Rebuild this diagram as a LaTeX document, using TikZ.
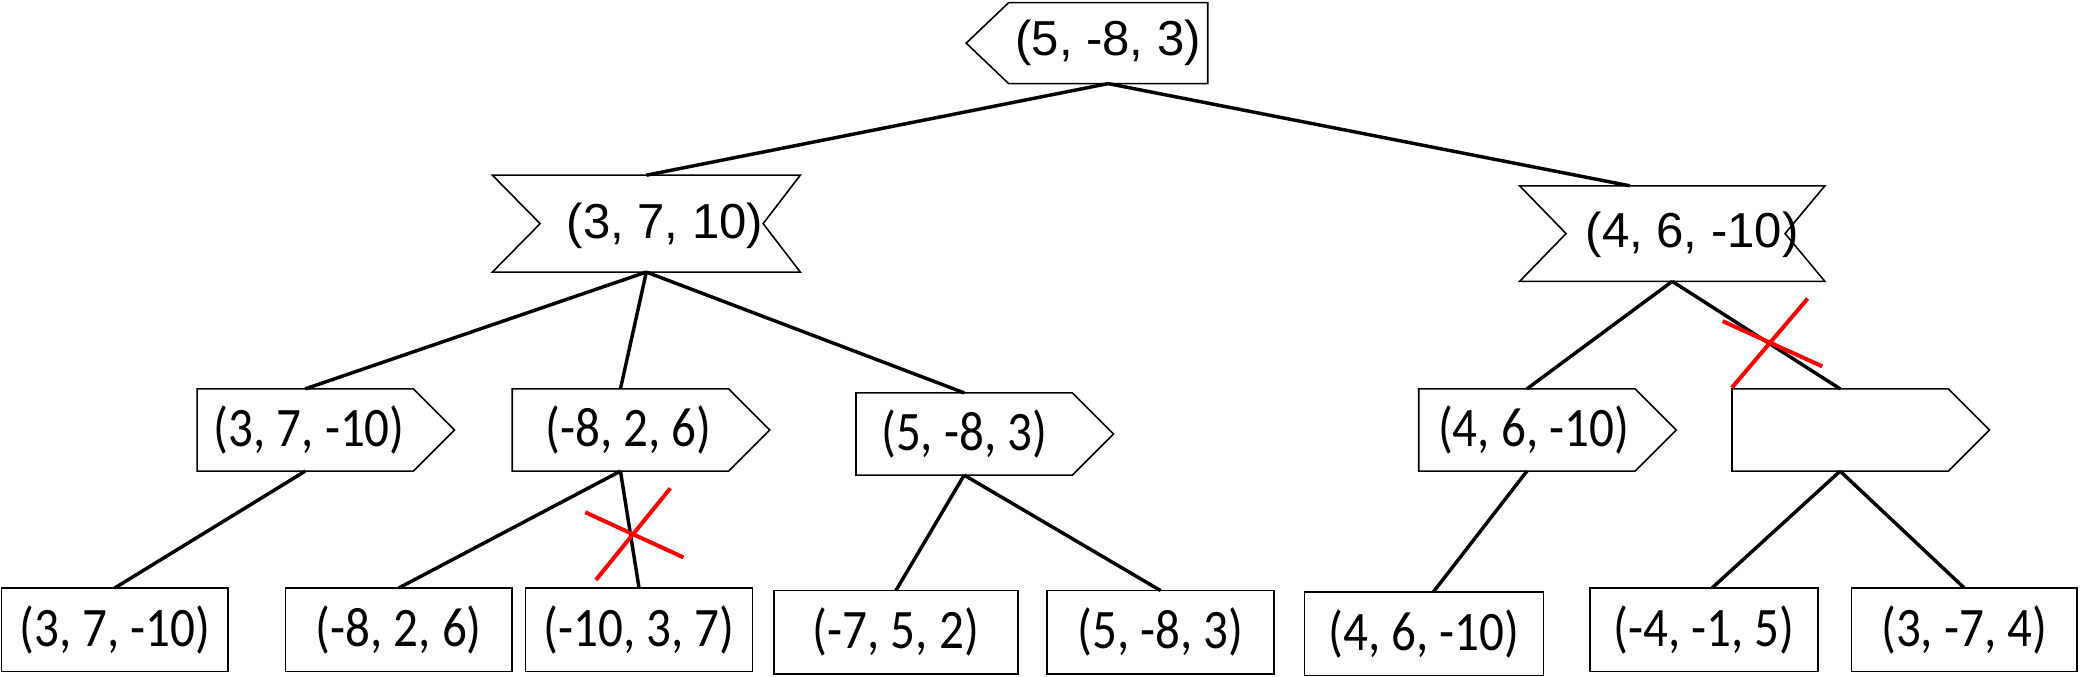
\documentclass[tikz,border=0pt]{standalone}
\usepackage{fontspec}
\setmainfont{Liberation Sans}
\newfontfamily\calibri[FakeStretch=0.88]{Carlito}
\usetikzlibrary{calc}

\begin{document}
\begin{tikzpicture}[x=1pt,y=-1pt,
    box/.style={inner sep=0pt, outer sep=0pt},
    outline/.style={line width=1.2pt, line join=miter},
    arialtext/.style={font=\fontsize{37}{40}\selectfont},
    calibritext/.style={font=\calibri\fontsize{42}{45}\selectfont},
    rootnode/.style={box, arialtext, minimum width=150pt, minimum height=61pt},
    minnode/.style={box, minimum width=232pt, minimum height=73pt},
    maxnode/.style={box, calibritext, minimum width=163pt, minimum height=62pt},
    leaf/.style={box, draw, outline, calibritext, minimum height=63pt},
    branch/.style={line width=2.6pt},
    cut/.style={line width=3pt, red}]
				\fill[white] (0,0) rectangle (1568,510);
				
				\node[rootnode] (R) at (835,32.5) {(5, -8, 3)};
				\draw[outline] (R.north east) -- (R.north west) -- ($(R.west)+(-32,0)$) -- (R.south west) -- (R.south east) -- cycle;
				
				\node[minnode] (m1) at (487,168.5) {};
				\node[minnode, minimum width=230pt, minimum height=72pt] (m2) at (1260,176) {};
				\node[box, arialtext] (m1t) at (501,170) {(3, 7, 10)};
				\node[box, arialtext] (m2t) at (1275,177) {(4, 6, -10)};
				\foreach \n/\a/\b in {m1/36/28, m2/35/30}
					\draw[outline] (\n.north west) -- (\n.north east) -- ($(\n.east)+(-\b,0)$) -- (\n.south east) -- (\n.south west) -- ($(\n.west)+(\a,0)$) -- cycle;
				
				\node[maxnode] (M1) at (230,324) {\hspace*{6pt}(3, 7, -10)};
				\node[maxnode] (M2) at (467.5,324) {\hspace*{12pt}(-8, 2, 6)};
				\node[maxnode] (M3) at (726.5,327) {(5, -8, 3)};
				\node[maxnode] (M4) at (1150.5,324) {\hspace*{10pt}(4, 6, -10)};
				\node[maxnode] (M5) at (1386.5,324) {};
				\foreach \n in {M1,M2,M3,M4,M5}
					\draw[outline] (\n.north west) -- (\n.north east) -- ($(\n.east)+(31,0)$) -- (\n.south east) -- (\n.south west) -- cycle;
				
				\node[leaf, minimum width=171pt] (L1) at (86.5,474.5) {(3, 7, -10)};
				\node[leaf, minimum width=171pt] (L2) at (300.5,474.5) {(-8, 2, 6)};
				\node[leaf, minimum width=171pt] (L3) at (481.5,474.5) {(-10, 3, 7)};
				\node[leaf, minimum width=184pt] (L4) at (675,476.5) {(-7, 5, 2)};
				\node[leaf, minimum width=171pt] (L5) at (874.5,476.5) {(5, -8, 3)};
				\node[leaf, minimum width=180pt] (L6) at (1073,477.5) {(4, 6, -10)};
				\node[leaf, minimum width=172pt] (L7) at (1284,474.5) {(-4, -1, 5)};
				\node[leaf, minimum width=170pt] (L8) at (1480,474.5) {(3, -7, 4)};
				
				\draw[branch] (R.south) -- (m1.north);
				\draw[branch] (R.south) -- ($(m2.north)+(-32,0)$);
				\draw[branch] (m1.south) -- (M1.north);
				\draw[branch] (m1.south) -- (M2.north);
				\draw[branch] (m1.south) -- (M3.north);
				\draw[branch] (m2.south) -- (M4.north);
				\draw[branch] (m2.south) -- (M5.north);
				\draw[branch] (M1.south) -- (L1.north);
				\draw[branch] (M2.south) -- (L2.north);
				\draw[branch] (M2.south) -- (L3.north);
				\draw[branch] (M3.south) -- (L4.north);
				\draw[branch] (M3.south) -- (L5.north);
				\draw[branch] (M4.south) -- ($(L6.north)+(7,0)$);
				\draw[branch] (M5.south) -- ($(L7.north)+(6,0)$);
				\draw[branch] (M5.south) -- (L8.north);
				
				\draw[cut] (441,386) -- (515,420);
				\draw[cut] (449,437) -- (505,368);
				\draw[cut] (1298,242) -- (1373,276);
				\draw[cut] (1305,292) -- (1362,225);
			\end{tikzpicture}
\end{document}
